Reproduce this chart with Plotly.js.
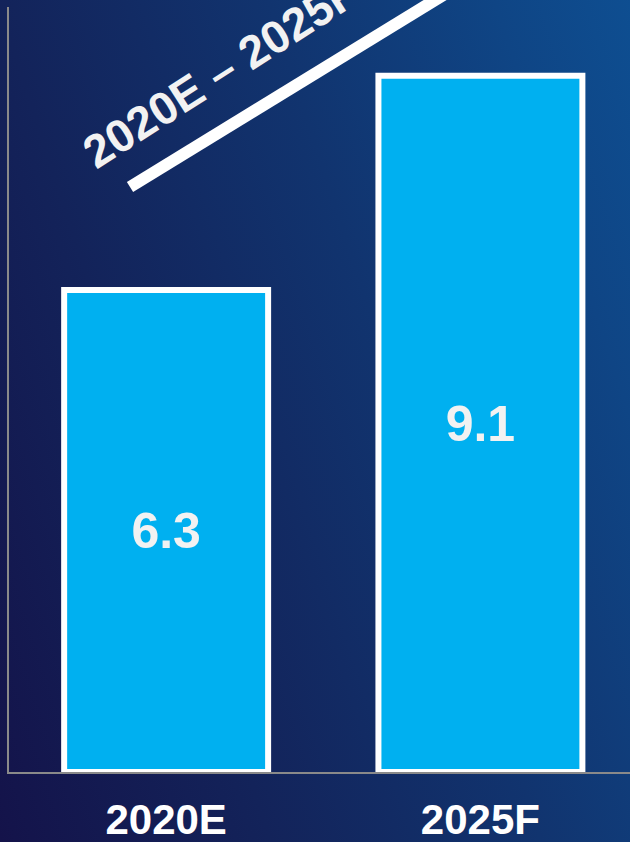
<!DOCTYPE html>
<html>
<head>
<meta charset="utf-8">
<script src="https://cdn.plot.ly/plotly-3.0.1.min.js"></script>
<style>
  html, body { margin: 0; padding: 0; }
  #chart {
    width: 630px; height: 842px;
    background: linear-gradient(72deg, #14134a 0%, #13235a 30%, #11346f 60%, #0f4585 85%, #0e4e91 100%);
  }
</style>
</head>
<body>
<div id="chart"></div>
<script>
// Data
const categories = ["2020E", "2025F"];
const values = [6.3, 9.1];
const periodLabel = "2020E – 2025F";

const trace = {
  type: "bar",
  x: categories,
  y: values,
  marker: { color: "#00b0f0", line: { color: "#ffffff", width: 6 } },
  text: values.map(v => v.toFixed(1)),
  textposition: "inside",
  insidetextanchor: "middle",
  textangle: 0,
  constraintext: "none",
  textfont: { family: "Liberation Sans, Arial, sans-serif", size: 50, color: "#f2f2f2", weight: 700 },
  hoverinfo: "skip"
};

const layout = {
  width: 630, height: 842,
  margin: { l: 9, r: 0, t: 7, b: 70 },
  paper_bgcolor: "rgba(0,0,0,0)",
  plot_bgcolor: "rgba(0,0,0,0)",
  bargap: 0.351,
  showlegend: false,
  xaxis: {
    type: "category",
    range: [-0.5, 1.476],
    showline: true, linecolor: "#8a8a8a", linewidth: 2,
    layer: "below traces",
    showgrid: false, zeroline: false,
    ticks: "outside", ticklen: 10, tickcolor: "rgba(0,0,0,0)",
    tickfont: { family: "Liberation Sans, Arial, sans-serif", size: 42, color: "#ffffff", weight: 700 },
    fixedrange: true
  },
  yaxis: {
    range: [0, 10],
    showline: true, linecolor: "#8a8a8a", linewidth: 2,
    layer: "below traces",
    showgrid: false, zeroline: false, showticklabels: false, ticks: "",
    fixedrange: true
  },
  shapes: [{
    type: "line", xref: "paper", yref: "paper",
    x0: (130 - 9) / 621, y0: (772 - 187) / 765,
    x1: (520 - 9) / 621, y1: (772 + 52) / 765,
    line: { color: "#ffffff", width: 12 }
  }],
  annotations: [{
    xref: "paper", yref: "paper",
    x: (220 - 9) / 621, y: (772 - 72) / 765,
    xanchor: "center", yanchor: "middle",
    text: periodLabel, showarrow: false,
    textangle: -32.5,
    font: { family: "Liberation Sans, Arial, sans-serif", size: 46, color: "#f2f2f2", weight: 700 }
  }]
};

Plotly.newPlot("chart", [trace], layout, { displayModeBar: false, staticPlot: true });
</script>
</body>
</html>
